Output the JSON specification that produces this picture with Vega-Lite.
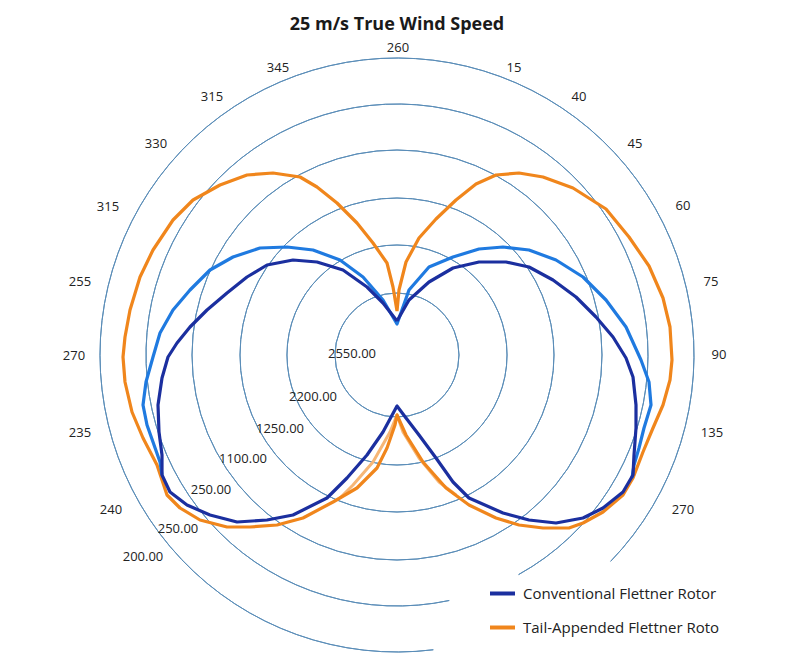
{
  "$schema": "https://vega.github.io/schema/vega-lite/v6.json",
  "autosize": "none",
  "width": 600,
  "height": 600,
  "padding": {"left": 97, "top": 55, "right": 103, "bottom": 11},
  "background": "white",
  "title": {"text": "25 m/s True Wind Speed", "font": "Open Sans", "fontSize": 18, "fontWeight": "bold", "color": "#1a1a1a", "anchor": "middle", "offset": 8},
  "config": {"view": {"stroke": null}},
  "datasets": {
    "rings": [
      {"r": 62, "t0": 0, "t1": 6.2832},
      {"r": 110, "t0": 0, "t1": 6.2832},
      {"r": 157, "t0": 0, "t1": 6.2832},
      {"r": 205, "t0": 0, "t1": 6.2832},
      {"r": 251, "t0": 2.932, "t1": 8.919},
      {"r": 297, "t0": 3.019, "t1": 8.622}
    ],
    "navy": [
      {"i":0,"x":0,"y":34},{"i":1,"x":12,"y":55},{"i":2,"x":32,"y":73},{"i":3,"x":56,"y":87},{"i":4,"x":82,"y":93},{"i":5,"x":109,"y":93},{"i":6,"x":132,"y":88},{"i":7,"x":156,"y":75},{"i":8,"x":179,"y":58},{"i":9,"x":199,"y":38},{"i":10,"x":216,"y":18},{"i":11,"x":229,"y":-3},{"i":12,"x":236,"y":-22},{"i":13,"x":239,"y":-50},{"i":14,"x":239,"y":-73},{"i":15,"x":237,"y":-100},{"i":16,"x":236,"y":-120},{"i":17,"x":226,"y":-137},{"i":18,"x":206,"y":-153},{"i":19,"x":186,"y":-163},{"i":20,"x":159,"y":-168},{"i":21,"x":132,"y":-165},{"i":22,"x":106,"y":-158},{"i":23,"x":72,"y":-143},{"i":24,"x":56,"y":-127},{"i":25,"x":39,"y":-103},{"i":26,"x":22,"y":-80},{"i":27,"x":9,"y":-63},{"i":28,"x":0,"y":-51},{"i":29,"x":-14,"y":-77},{"i":30,"x":-30,"y":-100},{"i":31,"x":-50,"y":-123},{"i":32,"x":-70,"y":-143},{"i":33,"x":-104,"y":-160},{"i":34,"x":-130,"y":-165},{"i":35,"x":-160,"y":-167},{"i":36,"x":-187,"y":-160},{"i":37,"x":-210,"y":-150},{"i":38,"x":-227,"y":-137},{"i":39,"x":-235,"y":-120},{"i":40,"x":-235,"y":-100},{"i":41,"x":-238,"y":-77},{"i":42,"x":-239,"y":-50},{"i":43,"x":-235,"y":-23},{"i":44,"x":-229,"y":-2},{"i":45,"x":-220,"y":12},{"i":46,"x":-207,"y":28},{"i":47,"x":-190,"y":45},{"i":48,"x":-170,"y":62},{"i":49,"x":-150,"y":78},{"i":50,"x":-130,"y":90},{"i":51,"x":-104,"y":95},{"i":52,"x":-80,"y":93},{"i":53,"x":-54,"y":85},{"i":54,"x":-30,"y":68},{"i":55,"x":-14,"y":52},{"i":56,"x":0,"y":34}
    ],
    "bright": [
      {"i":0,"x":235,"y":-123},{"i":1,"x":237,"y":-110},{"i":2,"x":242,"y":-93},{"i":3,"x":247,"y":-73},{"i":4,"x":254,"y":-50},{"i":5,"x":252,"y":-27},{"i":6,"x":244,"y":-5},{"i":7,"x":229,"y":28},{"i":8,"x":209,"y":55},{"i":9,"x":186,"y":78},{"i":10,"x":159,"y":95},{"i":11,"x":132,"y":105},{"i":12,"x":106,"y":108},{"i":13,"x":82,"y":106},{"i":14,"x":56,"y":98},{"i":15,"x":32,"y":88},{"i":16,"x":12,"y":65},{"i":17,"x":0,"y":31},{"i":18,"x":-14,"y":55},{"i":19,"x":-34,"y":78},{"i":20,"x":-57,"y":95},{"i":21,"x":-84,"y":105},{"i":22,"x":-110,"y":108},{"i":23,"x":-137,"y":107},{"i":24,"x":-164,"y":98},{"i":25,"x":-187,"y":85},{"i":26,"x":-207,"y":65},{"i":27,"x":-224,"y":45},{"i":28,"x":-237,"y":22},{"i":29,"x":-244,"y":-2},{"i":30,"x":-251,"y":-27},{"i":31,"x":-254,"y":-50},{"i":32,"x":-250,"y":-70},{"i":33,"x":-244,"y":-87},{"i":34,"x":-237,"y":-107},{"i":35,"x":-235,"y":-120}
    ],
    "orange": [
      {"i":0,"x":0,"y":44},{"i":1,"x":2,"y":65},{"i":2,"x":9,"y":93},{"i":3,"x":22,"y":117},{"i":4,"x":39,"y":136},{"i":5,"x":59,"y":155},{"i":6,"x":79,"y":171},{"i":7,"x":99,"y":180},{"i":8,"x":122,"y":182},{"i":9,"x":146,"y":178},{"i":10,"x":176,"y":167},{"i":11,"x":209,"y":146},{"i":12,"x":232,"y":118},{"i":13,"x":252,"y":89},{"i":14,"x":266,"y":57},{"i":15,"x":273,"y":28},{"i":16,"x":275,"y":-5},{"i":17,"x":273,"y":-25},{"i":18,"x":266,"y":-50},{"i":19,"x":256,"y":-73},{"i":20,"x":246,"y":-97},{"i":21,"x":236,"y":-123},{"i":22,"x":226,"y":-140},{"i":23,"x":206,"y":-157},{"i":24,"x":186,"y":-168},{"i":25,"x":172,"y":-173},{"i":26,"x":146,"y":-173},{"i":27,"x":122,"y":-170},{"i":28,"x":99,"y":-163},{"i":29,"x":72,"y":-150},{"i":30,"x":49,"y":-133},{"i":31,"x":26,"y":-107},{"i":32,"x":9,"y":-80},{"i":33,"x":0,"y":-60},{"i":34,"x":-2,"y":-70},{"i":35,"x":-10,"y":-93},{"i":36,"x":-20,"y":-113},{"i":37,"x":-40,"y":-133},{"i":38,"x":-64,"y":-147},{"i":39,"x":-94,"y":-163},{"i":40,"x":-120,"y":-170},{"i":41,"x":-147,"y":-172},{"i":42,"x":-170,"y":-172},{"i":43,"x":-197,"y":-165},{"i":44,"x":-217,"y":-153},{"i":45,"x":-230,"y":-140},{"i":46,"x":-240,"y":-110},{"i":47,"x":-254,"y":-83},{"i":48,"x":-265,"y":-57},{"i":49,"x":-272,"y":-27},{"i":50,"x":-274,"y":-2},{"i":51,"x":-272,"y":18},{"i":52,"x":-267,"y":45},{"i":53,"x":-257,"y":78},{"i":54,"x":-244,"y":105},{"i":55,"x":-224,"y":135},{"i":56,"x":-204,"y":155},{"i":57,"x":-177,"y":170},{"i":58,"x":-150,"y":180},{"i":59,"x":-124,"y":182},{"i":60,"x":-97,"y":178},{"i":61,"x":-80,"y":168},{"i":62,"x":-60,"y":152},{"i":63,"x":-40,"y":132},{"i":64,"x":-24,"y":112},{"i":65,"x":-10,"y":92},{"i":66,"x":-4,"y":68},{"i":67,"x":0,"y":44}
    ],
    "pale": [
      {"i":0,"x":-57,"y":-143},{"i":1,"x":-44,"y":-130},{"i":2,"x":-24,"y":-107},{"i":3,"x":-7,"y":-77},{"i":4,"x":0,"y":-60},{"i":5,"x":6,"y":-77},{"i":6,"x":22,"y":-103},{"i":7,"x":42,"y":-127},{"i":8,"x":59,"y":-140}
    ],
    "angleLabels": [
      {"t":"260","x":1,"y":307},{"t":"345","x":-119,"y":287},{"t":"15","x":117,"y":287},{"t":"315","x":-185,"y":258},{"t":"40","x":182,"y":258},{"t":"330","x":-241,"y":211},{"t":"45","x":238,"y":211},{"t":"315","x":-289,"y":148},{"t":"60","x":286,"y":149},{"t":"255","x":-317,"y":73},{"t":"75","x":314,"y":73},{"t":"270","x":-323,"y":-1},{"t":"90","x":322,"y":0},{"t":"235","x":-317,"y":-78},{"t":"135","x":315,"y":-78},{"t":"240","x":-286,"y":-155},{"t":"270","x":286,"y":-155}
    ],
    "radialLabels": [
      {"t":"2550.00","x":-45,"y":1},{"t":"2200.00","x":-84,"y":-42},{"t":"1250.00","x":-117,"y":-74},{"t":"1100.00","x":-154,"y":-104},{"t":"250.00","x":-186,"y":-135},{"t":"250.00","x":-219,"y":-174},{"t":"200.00","x":-254,"y":-202}
    ]
  },
  "layer": [
    {
      "data": {"name": "rings"},
      "mark": {"type": "arc", "filled": false, "fill": "transparent", "stroke": "#5a8db8", "strokeWidth": 1},
      "encoding": {
        "theta": {"field": "t0", "type": "quantitative", "scale": null, "stack": null},
        "theta2": {"field": "t1"},
        "radius": {"field": "r", "type": "quantitative", "scale": null},
        "radius2": {"field": "r"}
      }
    },
    {
      "data": {"name": "pale"},
      "mark": {"type": "line", "strokeWidth": 3, "strokeJoin": "round"},
      "encoding": {
        "x": {"field": "x", "type": "quantitative", "scale": {"domain": [-300, 300], "nice": false, "zero": false}, "axis": null},
        "y": {"field": "y", "type": "quantitative", "scale": {"domain": [-300, 300], "nice": false, "zero": false}, "axis": null},
        "order": {"field": "i", "type": "quantitative"},
        "color": {"datum": "Tail-Appended Flettner Roto B", "type": "nominal",
          "scale": {"domain": ["Conventional Flettner Rotor", "Tail-Appended Flettner Roto", "Conventional Flettner Rotor B", "Tail-Appended Flettner Roto B"], "range": ["#1b2f9f", "#f0861c", "#1f7ae0", "#f6b676"]},
          "legend": {"values": ["Conventional Flettner Rotor", "Tail-Appended Flettner Roto"], "title": null, "orient": "none", "legendX": 391, "legendY": 524, "symbolType": "stroke", "symbolSize": 625, "symbolStrokeWidth": 4, "labelFont": "Open Sans", "labelFontSize": 15, "labelColor": "#222222", "rowPadding": 11, "labelOffset": 6, "labelLimit": 0}}
      }
    },
    {
      "data": {"name": "orange"},
      "mark": {"type": "line", "strokeWidth": 3.2, "strokeJoin": "round"},
      "encoding": {
        "x": {"field": "x", "type": "quantitative", "axis": null},
        "y": {"field": "y", "type": "quantitative", "axis": null},
        "order": {"field": "i", "type": "quantitative"},
        "color": {"datum": "Tail-Appended Flettner Roto", "type": "nominal"}
      }
    },
    {
      "data": {"name": "bright"},
      "mark": {"type": "line", "strokeWidth": 3.2, "strokeJoin": "round"},
      "encoding": {
        "x": {"field": "x", "type": "quantitative", "axis": null},
        "y": {"field": "y", "type": "quantitative", "axis": null},
        "order": {"field": "i", "type": "quantitative"},
        "color": {"datum": "Conventional Flettner Rotor B", "type": "nominal"}
      }
    },
    {
      "data": {"name": "navy"},
      "mark": {"type": "line", "strokeWidth": 3.2, "strokeJoin": "round"},
      "encoding": {
        "x": {"field": "x", "type": "quantitative", "axis": null},
        "y": {"field": "y", "type": "quantitative", "axis": null},
        "order": {"field": "i", "type": "quantitative"},
        "color": {"datum": "Conventional Flettner Rotor", "type": "nominal"}
      }
    },
    {
      "data": {"name": "angleLabels"},
      "mark": {"type": "text", "font": "Open Sans", "fontSize": 13, "color": "#222222", "align": "center", "baseline": "middle"},
      "encoding": {
        "x": {"field": "x", "type": "quantitative", "axis": null},
        "y": {"field": "y", "type": "quantitative", "axis": null},
        "text": {"field": "t"}
      }
    },
    {
      "data": {"name": "radialLabels"},
      "mark": {"type": "text", "font": "Open Sans", "fontSize": 13, "color": "#222222", "align": "center", "baseline": "middle"},
      "encoding": {
        "x": {"field": "x", "type": "quantitative", "axis": null},
        "y": {"field": "y", "type": "quantitative", "axis": null},
        "text": {"field": "t"}
      }
    }
  ]
}
